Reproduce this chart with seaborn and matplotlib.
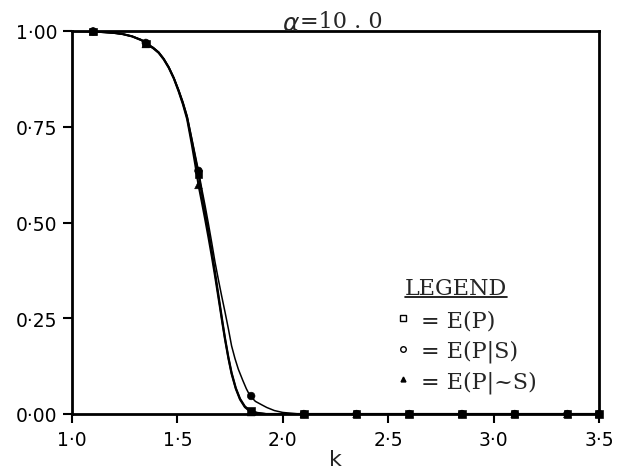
import numpy as np
import pandas as pd
import matplotlib
matplotlib.use("Agg")
import matplotlib.pyplot as plt
from matplotlib.lines import Line2D
import seaborn as sns

# ---- data ----
# traced curve points, E(P) and E(P|~S) (inner curves)
inner_k = [1.0, 1.1, 1.2, 1.24, 1.285, 1.33, 1.356, 1.385, 1.411, 1.435, 1.459, 1.483,
           1.506, 1.526, 1.546, 1.568, 1.585, 1.6, 1.615, 1.631, 1.647, 1.663, 1.678,
           1.69, 1.702, 1.714, 1.726, 1.742, 1.757, 1.777, 1.797, 1.82, 1.844, 1.88,
           1.92, 2.0, 3.5]
curve_ep = [1.0, 0.999, 0.995, 0.992, 0.986, 0.976, 0.966, 0.956, 0.944, 0.927, 0.905,
            0.877, 0.844, 0.812, 0.775, 0.715, 0.667, 0.626, 0.578, 0.528, 0.478, 0.425,
            0.372, 0.328, 0.284, 0.240, 0.198, 0.148, 0.108, 0.068, 0.040, 0.020, 0.009,
            0.003, 0.0, 0.0, 0.0]
curve_epns = [1.0, 0.999, 0.995, 0.992, 0.986, 0.976, 0.965, 0.955, 0.943, 0.926, 0.904,
              0.876, 0.842, 0.809, 0.770, 0.705, 0.650, 0.598, 0.556, 0.510, 0.462, 0.412,
              0.362, 0.320, 0.278, 0.235, 0.194, 0.145, 0.105, 0.066, 0.038, 0.018, 0.007,
              0.002, 0.0, 0.0, 0.0]
# traced curve points, E(P|S) (outer curve)
outer_k = [1.0, 1.1, 1.2, 1.24, 1.285, 1.33, 1.356, 1.385, 1.411, 1.435, 1.459, 1.483,
           1.506, 1.526, 1.546, 1.568, 1.585, 1.6, 1.615, 1.631, 1.647, 1.663, 1.678,
           1.694, 1.71, 1.726, 1.742, 1.757, 1.773, 1.789, 1.81, 1.827, 1.844, 1.87,
           1.9, 1.924, 1.96, 2.0, 2.08, 3.5]
curve_eps = [1.0, 0.999, 0.995, 0.992, 0.986, 0.977, 0.967, 0.957, 0.945, 0.928, 0.906,
             0.878, 0.846, 0.815, 0.778, 0.720, 0.675, 0.635, 0.590, 0.545, 0.497, 0.447,
             0.398, 0.352, 0.308, 0.266, 0.222, 0.178, 0.145, 0.117, 0.088, 0.066, 0.048,
             0.033, 0.024, 0.017, 0.009, 0.004, 0.0, 0.0]

# plotted symbols
mark_k = [1.1, 1.35, 1.6, 1.85, 2.1, 2.35, 2.6, 2.85, 3.1, 3.35, 3.5]
mark_ep = [0.999, 0.967, 0.626, 0.008, 0, 0, 0, 0, 0, 0, 0]
mark_eps = [0.999, 0.969, 0.635, 0.047, 0, 0, 0, 0, 0, 0, 0]
mark_epns = [0.999, 0.966, 0.598, 0.005, 0, 0, 0, 0, 0, 0, 0]

series_names = ["E(P)", "E(P|S)", "E(P|~S)"]
xticks = [1.0, 1.5, 2.0, 2.5, 3.0, 3.5]
xticklabels = ["1·0", "1·5", "2·0", "2·5", "3·0", "3·5"]
yticks = [0.0, 0.25, 0.5, 0.75, 1.0]
yticklabels = ["0·00", "0·25", "0·50", "0·75", "1·00"]
title_text = "=10 . 0"
legend_labels = ["= E(P)", "= E(P|S)", "= E(P|~S)"]

# ---- tables ----
curves = pd.concat([
    pd.DataFrame({"k": inner_k, "v": curve_ep, "s": series_names[0]}),
    pd.DataFrame({"k": outer_k, "v": curve_eps, "s": series_names[1]}),
    pd.DataFrame({"k": inner_k, "v": curve_epns, "s": series_names[2]}),
])
marks = pd.concat([
    pd.DataFrame({"k": mark_k, "v": mark_ep, "s": series_names[0]}),
    pd.DataFrame({"k": mark_k, "v": mark_eps, "s": series_names[1]}),
    pd.DataFrame({"k": mark_k, "v": mark_epns, "s": series_names[2]}),
])

sns.set_style("ticks")
plt.rcParams["font.family"] = ["DejaVu Sans"]

fig = plt.figure(figsize=(6.24, 4.77), dpi=100)
ax = fig.add_axes([72 / 624, 1 - 415 / 477, (599 - 72) / 624, (415 - 32) / 477])

widths = {series_names[0]: 1.5, series_names[1]: 1.1, series_names[2]: 1.5}
for name in series_names:
    sub = curves[curves["s"] == name]
    sns.lineplot(data=sub, x="k", y="v", ax=ax, color="black",
                 linewidth=widths[name], estimator=None, sort=False, legend=False)

markers = {series_names[0]: "s", series_names[1]: "o", series_names[2]: "^"}
sns.scatterplot(data=marks, x="k", y="v", style="s", markers=markers, ax=ax,
                color="black", s=30, edgecolor="black", legend=False, zorder=5,
                clip_on=False)

ax.set_xlim(1.0, 3.5)
ax.set_ylim(0.0, 1.0)
ax.set_xticks(xticks)
ax.set_xticklabels(xticklabels)
ax.set_yticks(yticks)
ax.set_yticklabels(yticklabels)
ax.tick_params(axis="both", direction="out", length=6.5, width=1.5,
               labelsize=13.5, color="black", labelcolor="black")
ax.tick_params(axis="x", pad=5)
ax.tick_params(axis="y", pad=4)
for sp in ax.spines.values():
    sp.set_visible(True)
    sp.set_linewidth(2.0)
    sp.set_color("black")

ax.set_xlabel("k", fontsize=16, labelpad=0)
ax.set_ylabel("")

# title
fig.text(300 / 624, 1 - 24 / 477, r"$\alpha$", fontsize=18, ha="right", va="center",
         family="DejaVu Sans")
fig.text(300 / 624, 1 - 22 / 477, title_text, fontsize=16, ha="left", va="center",
         family="DejaVu Serif")

# legend
handles = [Line2D([], [], marker="s", ls="none", mfc="white", mec="black", ms=4, mew=1),
           Line2D([], [], marker="o", ls="none", mfc="white", mec="black", ms=4, mew=1),
           Line2D([], [], marker="^", ls="none", mfc="black", mec="black", ms=3.5, mew=1)]
leg = ax.legend(handles, legend_labels, loc="upper left",
                bbox_to_anchor=(0.615, 0.274), frameon=False,
                prop={"family": "DejaVu Serif", "size": 16},
                handlelength=0.6, handletextpad=0.5, labelspacing=0.37,
                borderaxespad=0, borderpad=0)

lt = ax.text(0.632, 0.313, "LEGEND", transform=ax.transAxes, fontsize=16,
             family="DejaVu Serif", ha="left", va="baseline")
fig.canvas.draw()
bb = lt.get_window_extent()
base_px = ax.transAxes.transform((0, 0.313))[1]
fig.add_artist(Line2D([bb.x0 / 624, bb.x1 / 624],
                      [(base_px - 2.5) / 477] * 2,
                      color="black", lw=1.2))

fig.savefig("out.png", dpi=100)
